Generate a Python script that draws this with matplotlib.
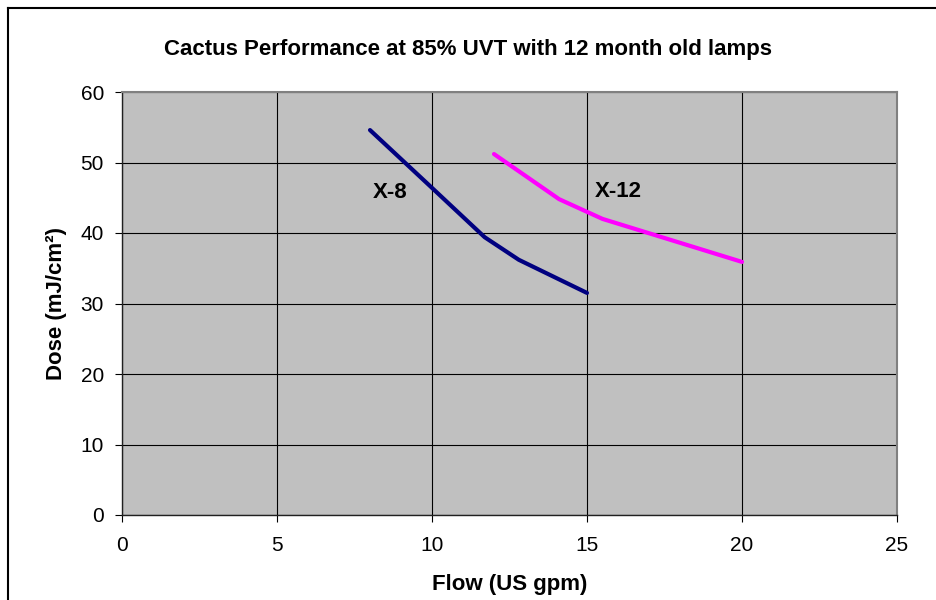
from matplotlib import pyplot as plt
from matplotlib.lines import Line2D

# data
x8_flow = [8.0, 10.0, 11.7, 12.8, 15.0]
x8_dose = [54.6, 46.4, 39.4, 36.2, 31.5]

x12_flow = [12.0, 14.1, 15.5, 20.0]
x12_dose = [51.2, 44.8, 42.0, 35.9]

x_ticks = [0, 5, 10, 15, 20, 25]
y_ticks = [0, 10, 20, 30, 40, 50, 60]

plt.rcParams['font.family'] = ['Liberation Sans', 'DejaVu Sans']

fig = plt.figure(figsize=(9.36, 6), dpi=100)
ax = fig.add_axes([122 / 936, 85 / 600, 775 / 936, 423 / 600])
ax.set_facecolor('#C0C0C0')

ax.plot(x8_flow, x8_dose, color='#000080', linewidth=3, solid_capstyle='round')
ax.plot(x12_flow, x12_dose, color='#FF00FF', linewidth=3, solid_capstyle='round')

ax.text(8.1, 45.8, "X-8", fontsize=16, fontweight='bold', va='center', ha='left')
ax.text(15.26, 45.9, "X-12", fontsize=16, fontweight='bold', va='center', ha='left')

ax.set_xlim(0, 25)
ax.set_ylim(0, 60)
ax.set_xticks(x_ticks)
ax.set_yticks(y_ticks)
ax.grid(True, color='black', linewidth=0.8)
ax.set_axisbelow(True)

ax.tick_params(axis='both', direction='out', length=5, width=0.8, labelsize=15)
ax.tick_params(axis='x', pad=10)
ax.tick_params(axis='y', pad=8)

for side in ['top', 'right']:
    ax.spines[side].set_color('#808080')
    ax.spines[side].set_linewidth(1.5)
for side in ['left', 'bottom']:
    ax.spines[side].set_color('#202020')
    ax.spines[side].set_linewidth(1.0)

ax.set_xlabel("Flow (US gpm)", fontsize=16, fontweight='bold', labelpad=14)
ax.set_ylabel("Dose (mJ/cm²)", fontsize=16, fontweight='bold', labelpad=10)

fig.text(468 / 936, 1 - 50 / 600, "Cactus Performance at 85% UVT with 12 month old lamps",
         fontsize=16, fontweight='bold', ha='center', va='center')

# outer chart border (left and top edges show in the picture)
fig.add_artist(Line2D([8 / 936, 8 / 936], [0, 1 - 8 / 600], transform=fig.transFigure,
                      color='black', linewidth=1.5))
fig.add_artist(Line2D([8 / 936, 1], [1 - 8 / 600, 1 - 8 / 600], transform=fig.transFigure,
                      color='black', linewidth=1.5))

plt.savefig("out.png", dpi=100)
